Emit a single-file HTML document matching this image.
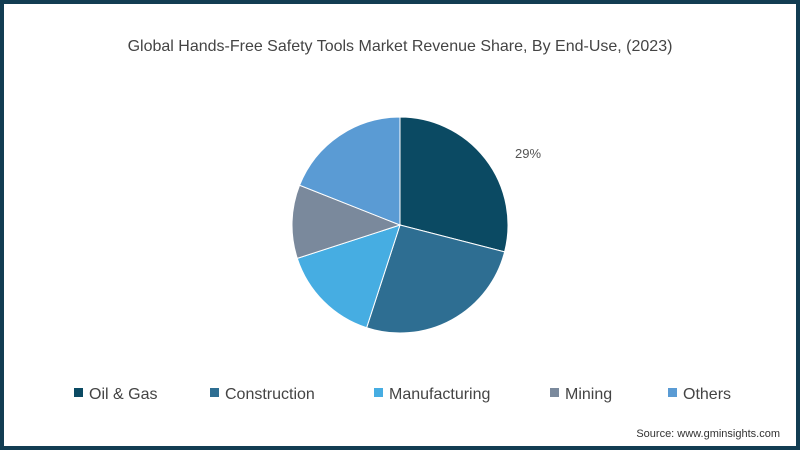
<!DOCTYPE html>
<html><head><meta charset="utf-8"><style>
body{margin:0;width:800px;height:450px;overflow:hidden;font-family:"Liberation Sans",sans-serif}
#frame{position:absolute;left:0;top:0;width:792px;height:442px;border:4px solid #123d52;background:#fff}
</style></head><body>
<div id="frame"></div>
<svg id="chart" width="800" height="450" style="position:absolute;left:0;top:0">
<text x="400" y="51" text-anchor="middle" font-size="16" fill="#444">Global Hands-Free Safety Tools Market Revenue Share, By End-Use, (2023)</text>
<g id="slices"></g><g id="legend"></g>
<text x="780" y="437" text-anchor="end" font-size="11" fill="#333">Source: www.gminsights.com</text>
</svg>
<script>
const categories=["Oil & Gas","Construction","Manufacturing","Mining","Others"];
const values=[29,26,15,11,19];
const colors=["#0b4a63","#2e6e92","#46ade2","#7a899c","#5a9bd4"];
const legendX=[74,210,374,550,668];
const ns="http://www.w3.org/2000/svg";
const cx=400,cy=225,r=108;
const total=values.reduce((a,b)=>a+b,0);
let acc=0;
const sg=document.getElementById('slices');
function pt(a){return [cx+r*Math.sin(a),cy-r*Math.cos(a)];}
values.forEach((v,i)=>{
  const a0=acc/total*2*Math.PI;acc+=v;const a1=acc/total*2*Math.PI;
  const [x0,y0]=pt(a0),[x1,y1]=pt(a1);
  const p=document.createElementNS(ns,'path');
  p.setAttribute('d',`M${cx},${cy}L${x0},${y0}A${r},${r} 0 ${a1-a0>Math.PI?1:0} 1 ${x1},${y1}Z`);
  p.setAttribute('fill',colors[i]);p.setAttribute('stroke','#fff');p.setAttribute('stroke-width','1');
  
  
  sg.appendChild(p);
  if(i===0){
    const t=document.createElementNS(ns,'text');
    t.setAttribute('x',528);t.setAttribute('y',158);t.setAttribute('text-anchor','middle');
    t.setAttribute('font-size','13');t.setAttribute('fill','#555');
    t.textContent=v+'%';
    
    
    sg.appendChild(t);
  }
});
const lg=document.getElementById('legend');
categories.forEach((c,i)=>{
  const g=document.createElementNS(ns,'g');
  
  
  const s=document.createElementNS(ns,'rect');
  s.setAttribute('x',legendX[i]);s.setAttribute('y',388);s.setAttribute('width',9);s.setAttribute('height',9);s.setAttribute('fill',colors[i]);
  const t=document.createElementNS(ns,'text');
  t.setAttribute('x',legendX[i]+15);t.setAttribute('y',399);t.setAttribute('font-size','16');t.setAttribute('fill','#444');
  t.textContent=c;
  g.appendChild(s);g.appendChild(t);lg.appendChild(g);
});
</script>
</body></html>
